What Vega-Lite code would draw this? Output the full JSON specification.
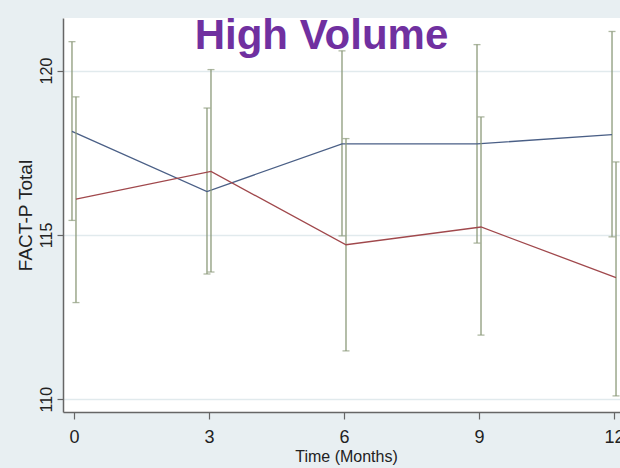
{
  "$schema": "https://vega.github.io/schema/vega-lite/v6.json",
  "width": 557,
  "height": 394,
  "autosize": {"type": "none"},
  "padding": {"left": 63, "top": 18, "right": 0, "bottom": 56},
  "background": "#e8eff2",
  "title": {
    "text": "High Volume",
    "font": "Liberation Sans",
    "fontSize": 42,
    "fontWeight": "bold",
    "color": "#7030a0",
    "anchor": "middle",
    "frame": "group",
    "baseline": "alphabetic",
    "offset": 0,
    "dx": -20,
    "dy": 73
  },
  "config": {
    "view": {"fill": "white", "stroke": null},
    "axis": {"labelColor": "#222", "titleColor": "#222", "domainColor": "#666", "tickColor": "#666", "domainWidth": 1.5, "tickWidth": 1.2}
  },
  "data": {
    "values": [
      {"month": 0, "group": "A", "mean": 118.15, "lo": 115.44, "hi": 120.88},
      {"month": 3, "group": "A", "mean": 116.32, "lo": 113.81, "hi": 118.86},
      {"month": 6, "group": "A", "mean": 117.77, "lo": 114.97, "hi": 120.6},
      {"month": 9, "group": "A", "mean": 117.77, "lo": 114.75, "hi": 120.79},
      {"month": 12, "group": "A", "mean": 118.05, "lo": 114.94, "hi": 121.19},
      {"month": 0, "group": "B", "mean": 116.09, "lo": 112.94, "hi": 119.2},
      {"month": 3, "group": "B", "mean": 116.93, "lo": 113.87, "hi": 120.03},
      {"month": 6, "group": "B", "mean": 114.7, "lo": 111.47, "hi": 117.93},
      {"month": 9, "group": "B", "mean": 115.24, "lo": 111.95, "hi": 118.59},
      {"month": 12, "group": "B", "mean": 113.7, "lo": 110.1, "hi": 117.22}
    ]
  },
  "encoding": {
    "x": {
      "field": "month", "type": "quantitative",
      "scale": {"domain": [-0.244, 12.133], "nice": false, "zero": false},
      "axis": {
        "values": [0, 3, 6, 9, 12], "grid": false, "tickSize": 7,
        "labelFont": "Liberation Sans Narrow, Arial Narrow, Liberation Sans", "labelFontSize": 18, "labelPadding": 9,
        "labelFlush": false, "labelOverlap": false,
        "title": "Time (Months)", "titleFont": "Liberation Sans Narrow, Arial Narrow, Liberation Sans", "titleFontSize": 16, "titleFontWeight": "normal",
        "titleX": 283, "titleY": 49, "titleBaseline": "alphabetic", "titleAlign": "center"
      }
    }
  },
  "layer": [
    {
      "transform": [{"filter": "datum.group === 'A'"}],
      "layer": [
        {"mark": {"type": "rule", "color": "#8c9a7a", "strokeWidth": 1.3, "xOffset": -2},
         "encoding": {
           "y": {"field": "lo", "type": "quantitative",
             "scale": {"domain": [109.61, 121.6], "nice": false, "zero": false},
             "axis": {
               "values": [110, 115, 120], "grid": true, "gridColor": "#e1eaed", "gridWidth": 1.5,
               "tickSize": 6, "labelAngle": -90, "labelAlign": "center", "labelBaseline": "bottom",
               "labelFont": "Liberation Sans", "labelFontSize": 16, "labelPadding": 3,
               "title": "FACT-P Total", "titleFont": "Liberation Sans", "titleFontSize": 19, "titleFontWeight": "normal",
               "titleAngle": -90, "titleX": -38, "titleY": 197, "titleAlign": "center", "titleBaseline": "middle"
             }},
           "y2": {"field": "hi"}
         }},
        {"mark": {"type": "tick", "orient": "horizontal", "color": "#8c9a7a", "size": 7, "thickness": 1.3, "xOffset": -2},
         "encoding": {"y": {"field": "lo", "type": "quantitative"}}},
        {"mark": {"type": "tick", "orient": "horizontal", "color": "#8c9a7a", "size": 7, "thickness": 1.3, "xOffset": -2},
         "encoding": {"y": {"field": "hi", "type": "quantitative"}}},
        {"mark": {"type": "line", "color": "#4a5f86", "strokeWidth": 1.3, "xOffset": -2},
         "encoding": {"y": {"field": "mean", "type": "quantitative"}}}
      ]
    },
    {
      "transform": [{"filter": "datum.group === 'B'"}],
      "layer": [
        {"mark": {"type": "rule", "color": "#8c9a7a", "strokeWidth": 1.3, "xOffset": 2},
         "encoding": {"y": {"field": "lo", "type": "quantitative"}, "y2": {"field": "hi"}}},
        {"mark": {"type": "tick", "orient": "horizontal", "color": "#8c9a7a", "size": 7, "thickness": 1.3, "xOffset": 2},
         "encoding": {"y": {"field": "lo", "type": "quantitative"}}},
        {"mark": {"type": "tick", "orient": "horizontal", "color": "#8c9a7a", "size": 7, "thickness": 1.3, "xOffset": 2},
         "encoding": {"y": {"field": "hi", "type": "quantitative"}}},
        {"mark": {"type": "line", "color": "#a0484c", "strokeWidth": 1.3, "xOffset": 2},
         "encoding": {"y": {"field": "mean", "type": "quantitative"}}}
      ]
    }
  ]
}
